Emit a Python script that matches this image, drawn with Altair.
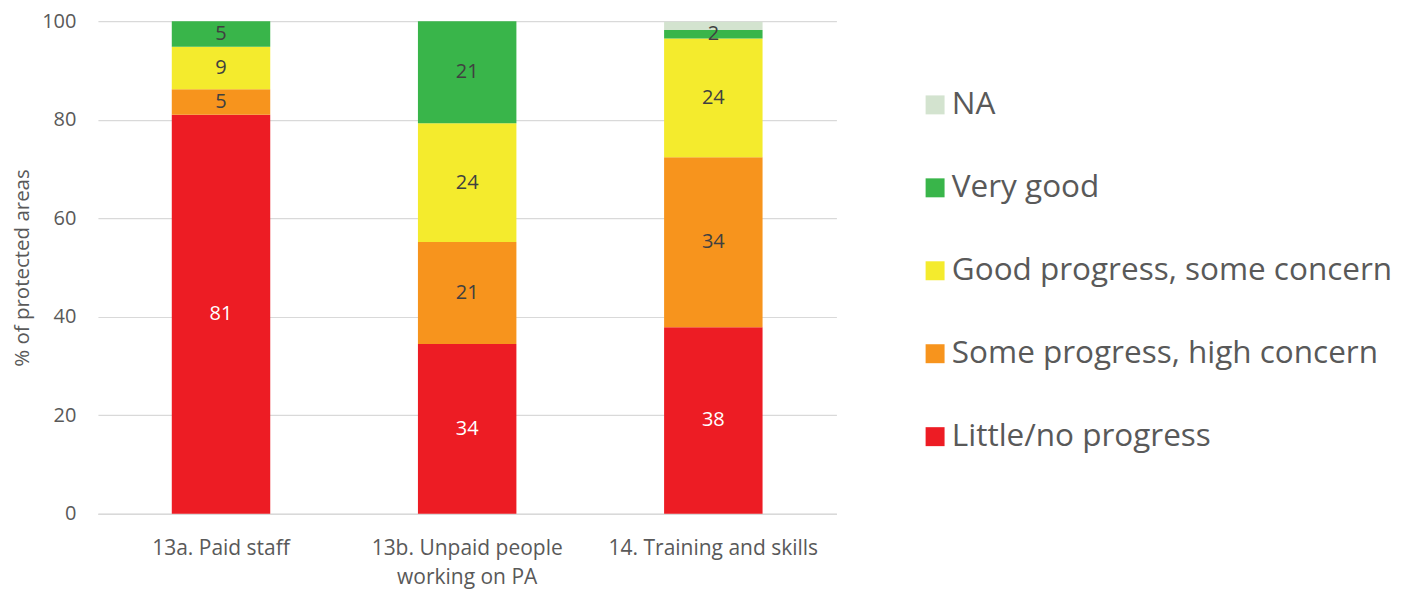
import altair as alt
import pandas as pd

categories = ["13a. Paid staff", "13b. Unpaid people working on PA", "14. Training and skills"]
series = ["Little/no progress", "Some progress, high concern", "Good progress, some concern", "Very good", "NA"]
colors = ["#ED1C24", "#F7941D", "#F4EB2D", "#39B54A", "#D3E3CF"]
values = {
    "Little/no progress": [81.0, 34.5, 37.9],
    "Some progress, high concern": [5.2, 20.7, 34.5],
    "Good progress, some concern": [8.6, 24.1, 24.1],
    "Very good": [5.2, 20.7, 1.7],
    "NA": [0.0, 0.0, 1.7],
}

rows = []
for si, s in enumerate(series):
    for ci, c in enumerate(categories):
        v = values[s][ci]
        rows.append({
            "cat": c, "series": s, "order": si, "value": v,
            "label": "" if s == "NA" or v == 0 else str(int(round(v))),
            "white": s == "Little/no progress",
        })
df = pd.DataFrame(rows)

FONT = "Open Sans"
TXT = "#595959"

base = alt.Chart(df).transform_stack(
    stack="value", groupby=["cat"], as_=["y0", "y1"], sort=[alt.SortField("order", order="ascending")]
).transform_calculate(mid="(datum.y0 + datum.y1) / 2")

xenc = alt.X("cat:N", sort=categories, title=None,
             scale=alt.Scale(paddingInner=0.6, paddingOuter=0.3),
             axis=alt.Axis(labelAngle=0, labelFont=FONT, labelFontSize=21, labelColor=TXT,
                           labelPadding=24, ticks=False, domainColor="#d9d9d9", domainWidth=1.5,
                           labelLineHeight=29, labelLimit=400,
                           labelExpr="datum.label == '13b. Unpaid people working on PA' ? ['13b. Unpaid people', 'working on PA'] : datum.label"))

bars = base.mark_bar().encode(
    x=xenc,
    y=alt.Y("y0:Q", scale=alt.Scale(domain=[0, 100]), title="% of protected areas",
            axis=alt.Axis(values=[0, 20, 40, 60, 80, 100], ticks=False, domain=False,
                          gridColor="#d9d9d9", gridWidth=1.2, labelFont=FONT, labelFontSize=20,
                          labelColor=TXT, labelPadding=22, titleFont=FONT, titleFontSize=20.5,
                          titleColor=TXT, titleFontWeight="normal", titlePadding=9)),
    y2="y1:Q",
    color=alt.Color("series:N", scale=alt.Scale(domain=series[::-1], range=colors[::-1]),
                    title=None,
                    legend=alt.Legend(orient="none", legendX=822, legendY=68, symbolType="square",
                                      symbolSize=360, symbolStrokeWidth=0, symbolOpacity=1,
                                      labelFont=FONT, labelFontSize=31.5, labelColor=TXT,
                                      labelOffset=1, rowPadding=50, labelLimit=600)),
)

labels = base.mark_text(font=FONT, fontSize=20).encode(
    x=alt.X("cat:N", sort=categories),
    y=alt.Y("mid:Q"),
    text="label:N",
    color=alt.condition("datum.white", alt.value("white"), alt.value("#404040")),
)

chart = alt.layer(bars, labels).properties(
    width=739, height=493,
    autosize=alt.AutoSizeParams(type="none"),
    padding={"left": 90, "top": 13, "right": 570, "bottom": 80},
).configure_view(stroke=None)

chart.save("out.html", embed_options={"renderer": "svg", "actions": False})
